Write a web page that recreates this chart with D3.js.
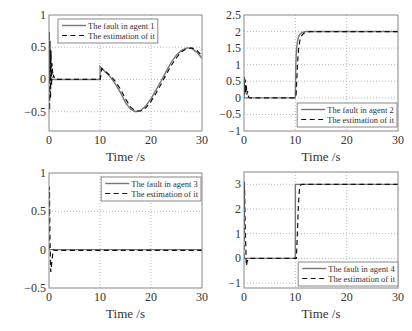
<!DOCTYPE html>
<html><head><meta charset="utf-8">
<script src="https://cdn.jsdelivr.net/npm/d3@7"></script>
<style>body{margin:0;background:#fff}svg{display:block}</style>
</head><body>
<svg id="c" width="412" height="331"></svg>
<script>
const xTicks = [0, 10, 20, 30];
const xLabel = "Time /s";

// Panel 1
const p1Fault = [[0,0],[10,0],[10.02,0.2],[11,0.12],[12,0.04],[13,-0.07],[14,-0.2],[15,-0.36],[16,-0.46],[17,-0.5],[18,-0.48],[19,-0.41],[20,-0.3],[21,-0.16],[22,-0.02],[23,0.13],[24,0.27],[25,0.38],[26,0.45],[27,0.49],[28,0.48],[29,0.42],[30,0.33]];
const p1Est = [[0,0],[0.05,0.74],[0.12,-0.48],[0.2,0.6],[0.3,-0.3],[0.4,0.45],[0.5,-0.1],[0.6,0.25],[0.75,0.03],[0.9,0.06],[1.2,0],[10,0],[10.15,0.05],[10.35,0.17],[10.6,0.15],[11,0.13],[12,0.06],[13,-0.03],[14,-0.15],[15,-0.3],[16,-0.43],[17,-0.49],[18,-0.49],[19,-0.44],[20,-0.34],[21,-0.21],[22,-0.07],[23,0.08],[24,0.22],[25,0.34],[26,0.43],[27,0.48],[28,0.49],[29,0.45],[30,0.37]];
const p1YTicks = [1, 0.5, 0, -0.5];
const p1Legend = ["The fault in agent 1", "The estimation of it"];

// Panel 2
const p2Fault = [[0,0],[10,0],[10.05,0.6],[10.1,1.0],[10.2,1.4],[10.4,1.7],[10.6,1.83],[10.8,1.9],[11,1.94],[11.5,1.98],[12,2],[30,2]];
const p2Est = [[0,0],[0.05,0.64],[0.15,0.1],[0.25,0.55],[0.35,0.15],[0.45,0.4],[0.55,0.1],[0.7,0.2],[0.9,0.02],[1.2,0],[10,0],[10.15,0.1],[10.3,0.6],[10.45,1.1],[10.65,1.5],[10.9,1.74],[11.2,1.87],[11.6,1.94],[12.2,1.99],[13,2],[30,2]];
const p2YTicks = [2.5, 2, 1.5, 1, 0.5, 0, -0.5, -1];
const p2Legend = ["The fault in agent 2", "The estimation of it"];

// Panel 3
const p3Fault = [[0,0],[30,0]];
const p3Est = [[0,0],[0.08,0.82],[0.2,0.1],[0.35,-0.29],[0.5,-0.2],[0.65,-0.1],[0.85,0],[1.2,-0.01],[30,-0.01]];
const p3YTicks = [1, 0.5, 0, -0.5];
const p3Legend = ["The fault in agent 3", "The estimation of it"];

// Panel 4
const p4Fault = [[0,0],[10,0],[10.01,3],[30,3]];
const p4Est = [[0,0],[0.08,3.1],[0.25,1.2],[0.45,-0.3],[0.65,-0.1],[0.9,0],[10.2,0],[10.4,1.0],[10.6,2.2],[10.8,2.8],[11,2.97],[11.3,3],[30,3]];
const p4YTicks = [3, 2, 1, 0, -1];
const p4Legend = ["The fault in agent 4", "The estimation of it"];

const panels = [
  {fault:p1Fault, est:p1Est, yt:p1YTicks, yd:[-0.8,1], leg:p1Legend, box:[49,202,15,131], lpos:"tl"},
  {fault:p2Fault, est:p2Est, yt:p2YTicks, yd:[-1,2.5], leg:p2Legend, box:[244,398,15,131], lpos:"br"},
  {fault:p3Fault, est:p3Est, yt:p3YTicks, yd:[-0.5,1], leg:p3Legend, box:[49,202,173,288], lpos:"tr"},
  {fault:p4Fault, est:p4Est, yt:p4YTicks, yd:[-1.2,3.5], leg:p4Legend, box:[244,398,172,288], lpos:"br4"}
];

const svg = d3.select("#c");
const font = "'Liberation Serif','Times New Roman',serif";
const fmt = v => (v < 0 ? "\u2212" : "") + Math.abs(v);

panels.forEach((p, i) => {
  const [l, r, t, b] = p.box;
  const x = d3.scaleLinear().domain([0,30]).range([l, r]);
  const y = d3.scaleLinear().domain(p.yd).range([b, t]);
  const g = svg.append("g");
  const cid = "clip" + i;
  g.append("clipPath").attr("id", cid).append("rect").attr("x", l).attr("y", t).attr("width", r-l).attr("height", b-t);

  // grid
  g.selectAll(".gx").data(xTicks.filter(v => v > 0 && v < 30)).enter().append("line")
    .attr("x1", d => x(d)).attr("x2", d => x(d)).attr("y1", t).attr("y2", b)
    .attr("stroke", "#aaa").attr("stroke-width", 0.8).attr("stroke-dasharray", "1,2");
  g.selectAll(".gy").data(p.yt.filter(v => y(v) > t + 1 && y(v) < b - 1)).enter().append("line")
    .attr("x1", l).attr("x2", r).attr("y1", d => y(d)).attr("y2", d => y(d))
    .attr("stroke", "#aaa").attr("stroke-width", 0.8).attr("stroke-dasharray", "1,2");

  const line = d3.line().x(d => x(d[0])).y(d => y(d[1]));
  const lg = g.append("g").attr("clip-path", `url(#${cid})`);
  lg.append("path").attr("d", line(p.fault)).attr("fill", "none").attr("stroke", "#777").attr("stroke-width", 1.4);
  lg.append("path").attr("d", line(p.est)).attr("fill", "none").attr("stroke", "#111").attr("stroke-width", 1.2).attr("stroke-dasharray", "5,3.5");

  // box
  g.append("rect").attr("x", l).attr("y", t).attr("width", r-l).attr("height", b-t)
    .attr("fill", "none").attr("stroke", "#888").attr("stroke-width", 1);

  // ticks
  g.selectAll(".tx").data(xTicks).enter().append("text")
    .attr("x", d => x(d)).attr("y", b + 13).attr("text-anchor", "middle")
    .attr("font-family", font).attr("font-size", 12).attr("fill", "#333").text(d => d);
  g.selectAll(".ty").data(p.yt).enter().append("text")
    .attr("x", l - 3).attr("y", d => y(d) + 4).attr("text-anchor", "end")
    .attr("font-family", font).attr("font-size", 12).attr("fill", "#333").text(d => fmt(d));
  g.append("text").attr("x", (l + r) / 2).attr("y", b + 30).attr("text-anchor", "middle")
    .attr("font-family", font).attr("font-size", 13).attr("fill", "#333").text(xLabel);

  // legend
  const lgd = g.append("g");
  const txts = p.leg.map((s, k) => lgd.append("text").attr("font-family", font).attr("font-size", 8.5).attr("fill", "#333").text(s));
  const tw = d3.max(txts, tt => tt.node().getComputedTextLength());
  const w = 30 + tw + 3, h = 24;
  let bx, by;
  if (p.lpos === "tl") { bx = l + 9; by = t + 4; }
  else if (p.lpos === "tr") { bx = r - 1 - w; by = t + 4; }
  else if (p.lpos === "br") { bx = r - 1 - w; by = b - 4 - h; }
  else { bx = r - w; by = b - 2 - h; }
  lgd.insert("rect", "text").attr("x", bx).attr("y", by).attr("width", w).attr("height", h)
    .attr("fill", "#fff").attr("stroke", "#888").attr("stroke-width", 1);
  [0, 1].forEach(k => {
    const cy = by + 6.5 + k * 10;
    lgd.append("line").attr("x1", bx + 4).attr("x2", bx + 28).attr("y1", cy).attr("y2", cy)
      .attr("stroke", k === 0 ? "#777" : "#111").attr("stroke-width", k === 0 ? 1.4 : 1.2)
      .attr("stroke-dasharray", k === 0 ? null : "5,3.5");
    txts[k].attr("x", bx + 30).attr("y", cy + 3);
  });
});
</script>
</body></html>
